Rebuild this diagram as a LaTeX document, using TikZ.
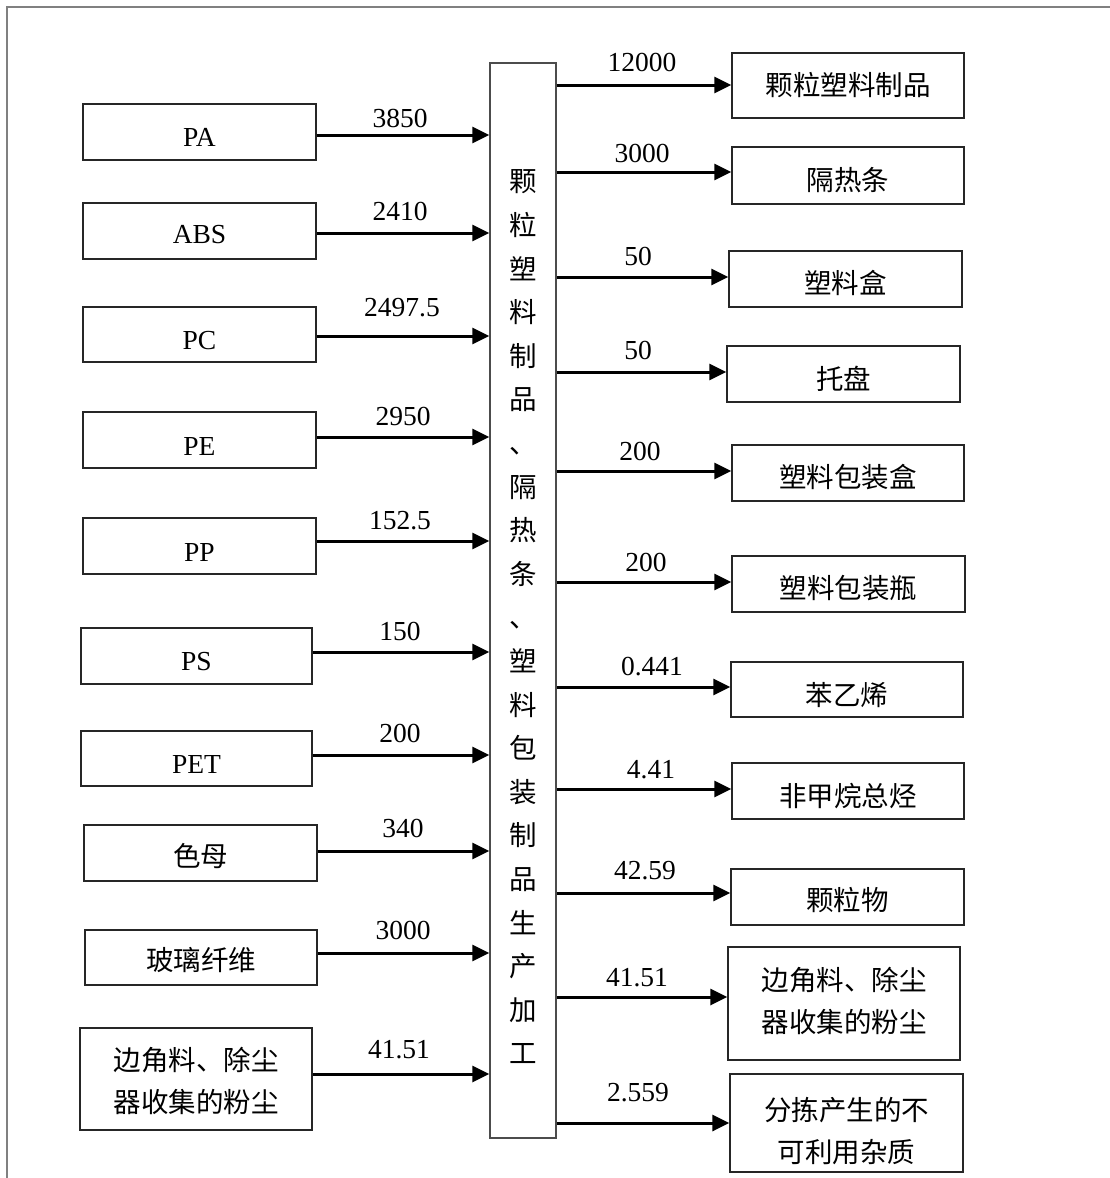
\documentclass[tikz,border=0pt]{standalone}
\usepackage{fontspec}
\setmainfont{Liberation Serif}
\newfontfamily\cjk{Noto Sans CJK SC}
\usetikzlibrary{arrows.meta}
\newcommand\dn[2]{\raisebox{-#1}[\height][\depth]{#2}}
\newcommand\twoline[2]{\parbox{224pt}{\centering\cjk\baselineskip=42pt #1\\#2}}
\begin{document}
\begin{tikzpicture}[x=1pt,y=-1pt,
  font=\fontsize{27.5}{32}\selectfont,
  bx/.style 2 args={draw=black!85, line width=1.3pt, inner sep=0pt,
    minimum width=#1pt, minimum height=#2pt},
  arr/.style={line width=3pt, -{Triangle[length=17pt,width=16pt]}},
  lbl/.style={inner sep=0pt}]
\useasboundingbox (0,0) rectangle (1110,1178);
% frame (cropped: only left and top edges visible)
\draw[black!50, line width=2pt] (7,1178) -- (7,7) -- (1110,7);

% central process box
\node[bx={66}{1075}, draw=black!70] (mid) at (523,600.5)
  {\dn{16.5pt}{\parbox{40pt}{\centering\cjk\baselineskip=43.6pt
  颗\\粒\\塑\\料\\制\\品\\、\\隔\\热\\条\\、\\塑\\料\\包\\装\\制\\品\\生\\产\\加\\工}}};

% input boxes
\node[bx={233}{56}] (pa)  at (199.5,132)   {\dn{5pt}{PA}};
\node[bx={233}{56}] (abs) at (199.5,231)   {\dn{4pt}{ABS}};
\node[bx={233}{55}] (pc)  at (199.5,334.5) {\dn{6pt}{PC}};
\node[bx={233}{56}] (pe)  at (199.5,440)   {\dn{6pt}{PE}};
\node[bx={233}{56}] (pp)  at (199.5,546)   {\dn{6pt}{PP}};
\node[bx={231}{56}] (ps)  at (196.5,656)   {\dn{6pt}{PS}};
\node[bx={231}{55}] (pet) at (196.5,758.5) {\dn{5.5pt}{PET}};
\node[bx={233}{56}] (sm)  at (200.5,853)   {\dn{3pt}{\cjk 色母}};
\node[bx={232}{55}] (bl)  at (201,957.5)   {\dn{3pt}{\cjk 玻璃纤维}};
\node[bx={232}{102}] (bj) at (196,1079)    {\dn{2pt}{\twoline{边角料、除尘}{器收集的粉尘}}};

% output boxes
\node[bx={232}{65}] (r1)  at (848,85.5)   {\dn{0pt}{\cjk 颗粒塑料制品}};
\node[bx={232}{57}] (r2)  at (848,175.5)  {\dn{4.5pt}{\cjk 隔热条}};
\node[bx={233}{56}] (r3)  at (845.5,279)  {\dn{3.5pt}{\cjk 塑料盒}};
\node[bx={233}{56}] (r4)  at (843.5,374)  {\dn{5pt}{\cjk 托盘}};
\node[bx={232}{56}] (r5)  at (848,473)    {\dn{4.5pt}{\cjk 塑料包装盒}};
\node[bx={233}{56}] (r6)  at (848.5,584)  {\dn{4pt}{\cjk 塑料包装瓶}};
\node[bx={232}{55}] (r7)  at (847,689.5)  {\dn{5.5pt}{\cjk 苯乙烯}};
\node[bx={232}{56}] (r8)  at (848,791)    {\dn{5pt}{\cjk 非甲烷总烃}};
\node[bx={233}{56}] (r9)  at (847.5,897)  {\dn{3pt}{\cjk 颗粒物}};
\node[bx={232}{113}] (r10) at (844,1003.5) {\dn{-3pt}{\twoline{边角料、除尘}{器收集的粉尘}}};
\node[bx={233}{98}] (r11) at (846.5,1123) {\dn{8pt}{\twoline{分拣产生的不}{可利用杂质}}};

% input arrows
\draw[arr] ([yshift=-3pt]pa.east)  -- ([yshift=-3pt]pa.east -| mid.west);
\draw[arr] ([yshift=-2pt]abs.east) -- ([yshift=-2pt]abs.east -| mid.west);
\draw[arr] ([yshift=-1.5pt]pc.east) -- ([yshift=-1.5pt]pc.east -| mid.west);
\draw[arr] ([yshift=3pt]pe.east)   -- ([yshift=3pt]pe.east -| mid.west);
\draw[arr] ([yshift=5pt]pp.east)   -- ([yshift=5pt]pp.east -| mid.west);
\draw[arr] ([yshift=4pt]ps.east)   -- ([yshift=4pt]ps.east -| mid.west);
\draw[arr] ([yshift=3.5pt]pet.east) -- ([yshift=3.5pt]pet.east -| mid.west);
\draw[arr] ([yshift=2pt]sm.east)   -- ([yshift=2pt]sm.east -| mid.west);
\draw[arr] ([yshift=4.5pt]bl.east) -- ([yshift=4.5pt]bl.east -| mid.west);
\draw[arr] ([yshift=5pt]bj.east)   -- ([yshift=5pt]bj.east -| mid.west);

% output arrows
\draw[arr] ([yshift=0.5pt]r1.west -| mid.east) -- ([yshift=0.5pt]r1.west);
\draw[arr] ([yshift=3.5pt]r2.west -| mid.east) -- ([yshift=3.5pt]r2.west);
\draw[arr] ([yshift=2pt]r3.west -| mid.east) -- ([yshift=2pt]r3.west);
\draw[arr] ([yshift=2pt]r4.west -| mid.east) -- ([yshift=2pt]r4.west);
\draw[arr] ([yshift=2pt]r5.west -| mid.east) -- ([yshift=2pt]r5.west);
\draw[arr] ([yshift=2pt]r6.west -| mid.east) -- ([yshift=2pt]r6.west);
\draw[arr] ([yshift=2.5pt]r7.west -| mid.east) -- ([yshift=2.5pt]r7.west);
\draw[arr] ([yshift=2pt]r8.west -| mid.east) -- ([yshift=2pt]r8.west);
\draw[arr] ([yshift=4pt]r9.west -| mid.east) -- ([yshift=4pt]r9.west);
\draw[arr] ([yshift=6.5pt]r10.west -| mid.east) -- ([yshift=6.5pt]r10.west);
\draw[arr] (r11.west -| mid.east) -- (r11.west);

% input quantities
\node[lbl] (q1)  at (400,118)  {3850};
\node[lbl] (q2)  at (400,211)  {2410};
\node[lbl] (q3)  at (402,308)  {2497.5};
\node[lbl] (q4)  at (403,416)  {2950};
\node[lbl] (q5)  at (400,521)  {152.5};
\node[lbl] (q6)  at (400,631)  {150};
\node[lbl] (q7)  at (400,733)  {200};
\node[lbl] (q8)  at (403,828)  {340};
\node[lbl] (q9)  at (403,930)  {3000};
\node[lbl] (q10) at (399,1050) {41.51};

% output quantities
\node[lbl] (o1)  at (642,62)   {12000};
\node[lbl] (o2)  at (642,153)  {3000};
\node[lbl] (o3)  at (638,256)  {50};
\node[lbl] (o4)  at (638,350)  {50};
\node[lbl] (o5)  at (640,451)  {200};
\node[lbl] (o6)  at (646,562)  {200};
\node[lbl] (o7)  at (652,667)  {0.441};
\node[lbl] (o8)  at (651,770)  {4.41};
\node[lbl] (o9)  at (645,871)  {42.59};
\node[lbl] (o10) at (637,978)  {41.51};
\node[lbl] (o11) at (638,1093) {2.559};
\end{tikzpicture}
\end{document}
